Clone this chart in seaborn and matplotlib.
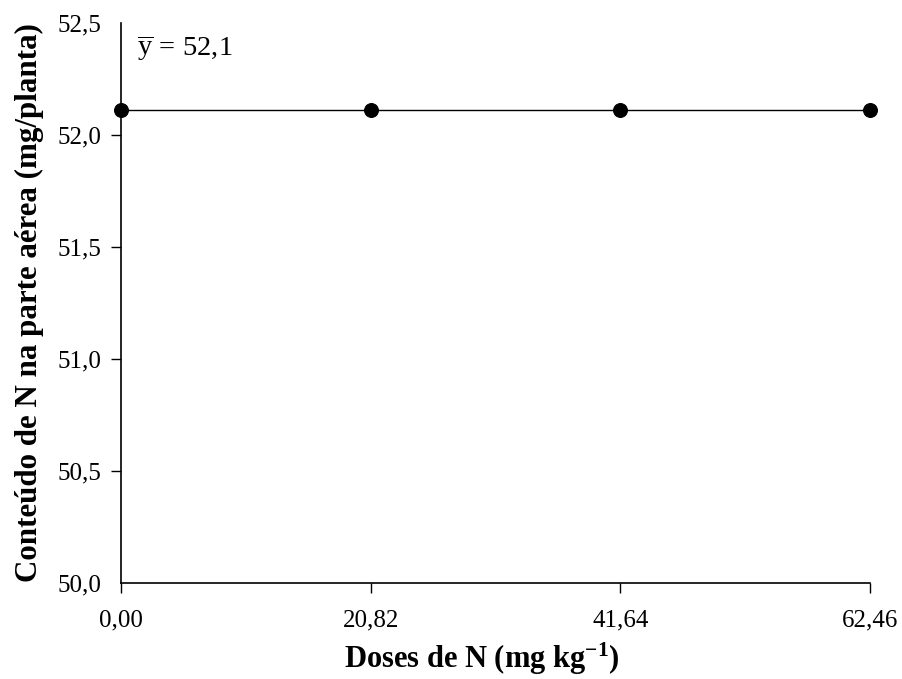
import matplotlib
matplotlib.use("Agg")
import matplotlib.pyplot as plt
import seaborn as sns
import pandas as pd
from matplotlib.ticker import FuncFormatter, FixedLocator

doses = [0.00, 20.82, 41.64, 62.46]
conteudo = [52.11, 52.11, 52.11, 52.11]
xtick_labels = ["0,00", "20,82", "41,64", "62,46"]
yticks = [50.0, 50.5, 51.0, 51.5, 52.0, 52.5]
media_label = r"$\overline{\mathrm{y}}\,=\,52{,}1$"

sns.set_theme(style="ticks")
plt.rcParams["font.family"] = ["Liberation Serif", "DejaVu Serif"]
plt.rcParams["mathtext.fontset"] = "custom"
plt.rcParams["mathtext.rm"] = "Liberation Serif"
plt.rcParams["mathtext.it"] = "Liberation Serif:italic"
plt.rcParams["mathtext.bf"] = "Liberation Serif:bold"

df = pd.DataFrame({"dose": doses, "conteudo": conteudo})

fig = plt.figure(figsize=(9.03, 6.79), dpi=100)
ax = fig.add_axes([0.134, 0.1414, 0.8295, 0.8247])

sns.lineplot(data=df, x="dose", y="conteudo", ax=ax, color="black",
             linewidth=1.0, marker="o", markersize=10,
             markerfacecolor="black", markeredgecolor="black", clip_on=False)

ax.set_xlim(0, 62.46)
ax.set_ylim(50.0, 52.5)
ax.xaxis.set_major_locator(FixedLocator(doses))
ax.set_xticklabels(xtick_labels)
ax.yaxis.set_major_locator(FixedLocator(yticks))
ax.yaxis.set_major_formatter(FuncFormatter(lambda v, p: f"{v:.1f}".replace(".", ",")))

for s in ["top", "right"]:
    ax.spines[s].set_visible(False)
for s in ["left", "bottom"]:
    ax.spines[s].set_color("black")
    ax.spines[s].set_linewidth(1.2)

ax.tick_params(axis="both", direction="out", length=7, width=1.0,
               color="black", labelsize=18, labelcolor="black")
ax.tick_params(axis="x", pad=12)
ax.tick_params(axis="y", pad=7)
yt = ax.yaxis.get_major_ticks()
yt[0].tick1line.set_visible(False)
yt[-1].tick1line.set_visible(False)

ax.set_xlabel(r"Doses de N (mg kg$^{\mathbf{-1}}$)", fontsize=22,
              fontweight="bold", color="black")
ax.xaxis.set_label_coords(0.481, -0.103)
ax.set_ylabel("Conteúdo de N na parte aérea (mg/planta)", fontsize=22.3,
              fontweight="bold", color="black", labelpad=10)

ax.text(0.021, 0.982, media_label, transform=ax.transAxes, fontsize=20.5,
        ha="left", va="top", color="black")

ax.set_facecolor("white")
fig.patch.set_facecolor("white")
fig.savefig("out.png", dpi=100, facecolor="white")
